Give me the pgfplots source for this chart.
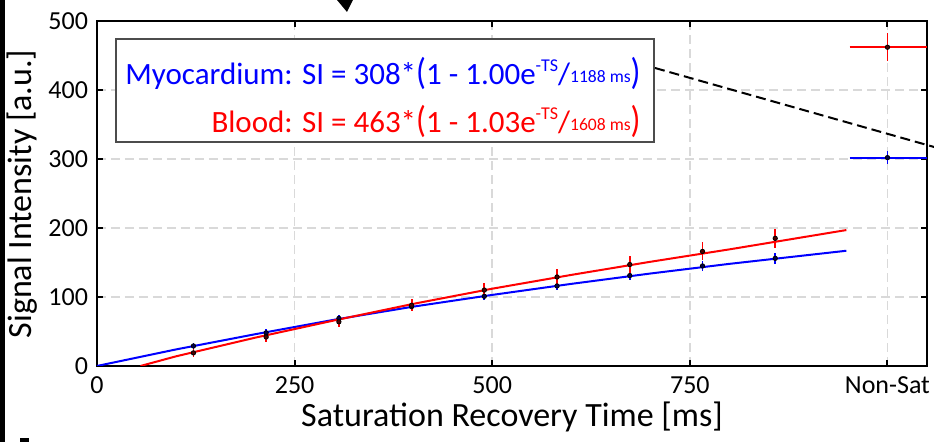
\documentclass[border=0pt]{standalone}
\usepackage{fontspec}
\setmainfont{Carlito}
\usepackage{graphicx}
\usepackage{pgfplots}
\pgfplotsset{compat=1.18}

\definecolor{myblue}{RGB}{0,0,255}
\definecolor{myred}{RGB}{255,0,0}

\newcommand{\fit}[3]{SI = #1*\raisebox{0.3pt}{\scalebox{1.05}[1.2]{(}}1 - #2e\raisebox{6.5pt}{\fontsize{9}{10}\selectfont -TS}\raisebox{0pt}{/}\raisebox{1pt}{\fontsize{8.8}{10}\selectfont #3 ms}\raisebox{0.3pt}{\scalebox{1.05}[1.2]{)}}}

\begin{document}
\begin{tikzpicture}
\begin{axis}[
  at={(48.5pt,-10.5pt)}, anchor=north west,
  scale only axis, width=415pt, height=172.5pt,
  xmin=0, xmax=1050, ymin=0, ymax=500,
  xtick={0,250,500,750,1000},
  xticklabels={0,250,500,750,Non-Sat},
  ytick={0,100,200,300,400,500},
  tick align=inside, major tick length=3pt,
  every tick/.style={black, line width=1pt},
  axis line style={black, line width=1.2pt},
  grid=major,
  major grid style={gray!30, line width=0.8pt, dash pattern=on 4.5pt off 2.5pt},
  tick label style={font=\fontsize{13}{15}\selectfont},
  /pgf/number format/assume math mode=true,
  xticklabel style={yshift=-2pt},
  yticklabel style={xshift=-1pt},
]
% fitted curves
\addplot[myblue, line width=1pt] coordinates {(0,0)(100,24)(200,46)(300,67)(400,86)(500,103)(600,119)(700,134)(800,148)(948,167)};
\addplot[myred, line width=1pt] coordinates {(55,0)(100,14)(200,41)(300,66)(400,90)(500,112)(600,132)(700,151)(800,169)(948,197)};
% measured points
\addplot[myblue, only marks, mark=*, mark size=1.1pt, mark options={black, fill=black!70!blue},
  error bars/.cd, y dir=both, y explicit, error mark=none,
  error bar style={myblue, line width=0.9pt}]
  coordinates {(122,29) +- (0,5) (214,48) +- (0,5) (306,69) +- (0,5) (398,86) +- (0,5) (490,101) +- (0,6)
               (582,116) +- (0,6) (674,131) +- (0,6) (766,145) +- (0,7) (858,156) +- (0,8)};
\addplot[myred, only marks, mark=*, mark size=1.1pt, mark options={black, fill=black!70!red},
  error bars/.cd, y dir=both, y explicit, error mark=none,
  error bar style={myred, line width=0.9pt}]
  coordinates {(122,19) +- (0,6) (214,42) +- (0,7) (306,64) +- (0,8) (398,88) +- (0,9) (490,110) +- (0,10)
               (582,129) +- (0,11) (674,147) +- (0,12) (766,166) +- (0,13) (858,185) +- (0,14)};
% non-saturated values
\addplot[myred, line width=1pt] coordinates {(952,462)(1050,462)};
\addplot[myblue, line width=1pt] coordinates {(952,302)(1050,302)};
\addplot[myred, only marks, mark=*, mark size=1.1pt, mark options={black, fill=black!70!red},
  error bars/.cd, y dir=both, y explicit, error mark=none,
  error bar style={myred, line width=0.9pt}]
  coordinates {(1000,462) +- (0,20)};
\addplot[myblue, only marks, mark=*, mark size=1.1pt, mark options={black, fill=black!70!blue},
  error bars/.cd, y dir=both, y explicit, error mark=none,
  error bar style={myblue, line width=0.9pt}]
  coordinates {(1000,302) +- (0,9)};
\end{axis}
\begin{scope}[x=0.5pt, y=-0.5pt]
  % legend box with fit equations
  \draw[fill=white, draw=black!70, line width=1pt] (116,39) rectangle (654,142);
  \node[anchor=base east, inner sep=0pt, text=myblue, font=\fontsize{15.5}{18}\selectfont] at (641,85) {Myocardium: \fit{308}{1.00}{1188}};
  \node[anchor=base east, inner sep=0pt, text=myred, font=\fontsize{15.5}{18}\selectfont] at (641,133) {Blood: \fit{463}{1.03}{1608}};
  % dashed annotation line
  \draw[black, line width=1pt, dash pattern=on 5pt off 2.5pt] (655,68) -- (950,151.5);
  % axis labels
  \node[anchor=base, inner sep=0pt, font=\fontsize{17}{20}\selectfont] at (512,427) {Saturation Recovery Time [ms]};
  \node[rotate=90, anchor=base, inner sep=0pt, font=\fontsize{17}{20}\selectfont] at (32,194) {Signal Intensity [a.u.]};
  % cropped figure remnants
  \fill[black] (0,0) rectangle (5,442);
  \fill[black] (337,0) -- (353,0) -- (347,12) -- cycle;
  \fill[black] (20,438) rectangle (29,442);
\end{scope}
\pgfresetboundingbox
\path[use as bounding box] (0,0) rectangle (467pt,-221pt);
\end{tikzpicture}
\end{document}
